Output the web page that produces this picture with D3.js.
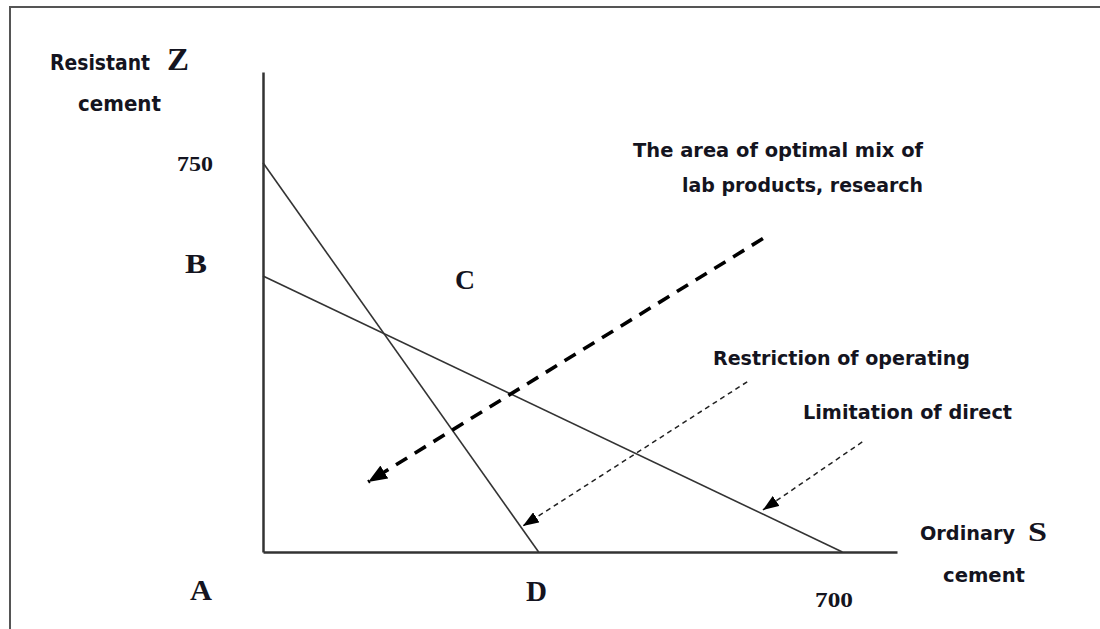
<!DOCTYPE html>
<html><head><meta charset="utf-8">
<script src="https://cdn.jsdelivr.net/npm/d3@7"></script>
<style>html,body{margin:0;padding:0;background:#fff;}svg{display:block;}</style>
</head><body>
<svg id="c" width="1100" height="629"></svg>
<script>
// ---- data ----
const xDomain = [0, 766];          // ordinary cement S
const yDomain = [0, 925];          // resistant cement Z
const constraintNames = ["Restriction of operating", "Limitation of direct"];
const constraintStart = [[0, 750], [0, 532]];   // (S, Z) intercept on Z axis
const constraintEnd   = [[333, 0], [700, 0]];   // intercept on S axis
const isoArrowFrom = [604, 604];
const isoArrowTo   = [127, 135];
const pointerFrom = [[585, 328], [724, 212]];
const pointerTo   = [[314, 50], [604, 81]];
const tickLabels = ["750", "700"];
const pointLabels = ["A", "B", "C", "D"];

// ---- layout ----
const svg = d3.select("#c");
const x = d3.scaleLinear().domain(xDomain).range([263, 897]);
const y = d3.scaleLinear().domain(yDomain).range([552, 72]);

const defs = svg.append("defs");
function marker(id, w, h) {
  defs.append("marker").attr("id", id).attr("markerUnits", "userSpaceOnUse")
    .attr("viewBox", `0 0 ${w} ${h}`).attr("refX", w).attr("refY", h / 2)
    .attr("markerWidth", w).attr("markerHeight", h).attr("orient", "auto")
    .append("path").attr("d", `M0,0L${w},${h/2}L0,${h}Z`).attr("fill", "#000");
}
marker("big", 19, 15);
marker("small", 16, 12);

// frame
svg.append("rect").attr("x", 10).attr("y", 7).attr("width", 1300).attr("height", 800)
  .attr("fill", "none").attr("stroke", "#555").attr("stroke-width", 2);

// axes
svg.append("g").attr("transform", `translate(0,${y(0)})`)
  .call(d3.axisBottom(x).tickValues([]).tickSizeOuter(0));
svg.append("g").attr("transform", `translate(${x(0)},0)`)
  .call(d3.axisLeft(y).tickValues([]).tickSizeOuter(0));
svg.selectAll(".domain").attr("stroke", "#333").attr("stroke-width", 2.5);

// constraint lines
constraintNames.forEach((n, i) => {
  svg.append("line")
    .attr("x1", x(constraintStart[i][0])).attr("y1", y(constraintStart[i][1]))
    .attr("x2", x(constraintEnd[i][0])).attr("y2", y(constraintEnd[i][1]))
    .attr("stroke", "#333").attr("stroke-width", 1.6);
});

// iso-profit dashed arrow
svg.append("line")
  .attr("x1", x(isoArrowFrom[0])).attr("y1", y(isoArrowFrom[1]))
  .attr("x2", x(isoArrowTo[0])).attr("y2", y(isoArrowTo[1]))
  .attr("stroke", "#000").attr("stroke-width", 3.6)
  .attr("stroke-dasharray", "13,9").attr("marker-end", "url(#big)");

// pointer arrows
pointerFrom.forEach((p, i) => {
  svg.append("line")
    .attr("x1", x(p[0])).attr("y1", y(p[1]))
    .attr("x2", x(pointerTo[i][0])).attr("y2", y(pointerTo[i][1]))
    .attr("stroke", "#222").attr("stroke-width", 1.5)
    .attr("stroke-dasharray", "5,4").attr("marker-end", "url(#small)");
});

// texts
const sans = "'DejaVu Sans', Verdana, sans-serif";
const serif = "'Liberation Serif', 'Times New Roman', serif";
function txt(s, px, py, size, fam, len) {
  const t = svg.append("text").attr("x", px).attr("y", py).text(s)
    .attr("font-family", fam).attr("font-weight", "bold").attr("font-size", size)
    .attr("fill", "#141420");
  if (len) t.attr("textLength", len).attr("lengthAdjust", "spacingAndGlyphs");
  return t;
}
txt("Resistant", 50, 70, 21, sans, 100);
txt("Z", 167, 70, 31, serif, 22);
txt("cement", 78, 111, 21, sans, 83);
txt(tickLabels[0], 177, 171, 21, serif, 36);
txt(tickLabels[1], 815, 607, 21, serif, 38);
txt(pointLabels[0], 190, 600, 29, serif, 22);
txt(pointLabels[1], 185, 273, 28, serif, 22);
txt(pointLabels[2], 455, 289, 28, serif, 20);
txt(pointLabels[3], 526, 601, 29, serif, 21);
txt("The area of optimal mix of", 633, 157, 20, sans, 290);
txt("lab products, research", 682, 192, 20, sans, 241);
txt(constraintNames[0], 713, 365, 20, sans, 257);
txt(constraintNames[1], 803, 419, 20, sans, 209);
txt("Ordinary", 920, 540, 20, sans, 95);
txt("S", 1028, 541, 28, serif, 19);
txt("cement", 943, 582, 20, sans, 82);
</script>
</body></html>
